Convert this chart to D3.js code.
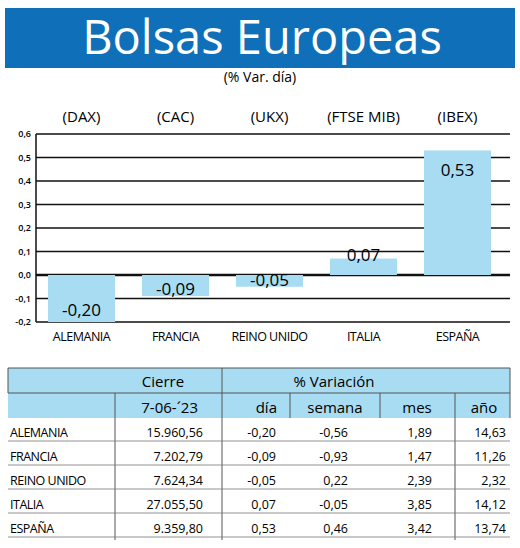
<!DOCTYPE html>
<html><head><meta charset="utf-8">
<script src="https://cdn.jsdelivr.net/npm/d3@7"></script>
<style>body{margin:0;background:#fff}svg{display:block}text{font-family:"Open Sans","Noto Sans",sans-serif;fill:#000}</style>
</head><body><svg id="c" width="520" height="548"></svg>
<script>
const countries = ["ALEMANIA","FRANCIA","REINO UNIDO","ITALIA","ESPAÑA"];
const indices = ["(DAX)","(CAC)","(UKX)","(FTSE MIB)","(IBEX)"];
const dia = [-0.20,-0.09,-0.05,0.07,0.53];
const yTicks = [0.6,0.5,0.4,0.3,0.2,0.1,0.0,-0.1,-0.2];
const cierre = ["15.960,56","7.202,79","7.624,34","27.055,50","9.359,80"];
const semana = [-0.56,-0.93,0.22,-0.05,0.46];
const mes = [1.89,1.47,2.39,3.85,3.42];
const anio = [14.63,11.26,2.32,14.12,13.74];
const fmt = v => v.toFixed(2).replace(".",",");

const svg = d3.select("#c");
svg.append("rect").attr("x",5).attr("y",8).attr("width",510).attr("height",60).attr("fill","#0f6fb8");
svg.append("text").attr("x",262).attr("y",54).attr("text-anchor","middle").style("fill","#fff")
  .attr("font-size",47).attr("font-weight",500).text("Bolsas Europeas");
svg.append("text").attr("x",260).attr("y",82).attr("text-anchor","middle").attr("font-size",14).text("(% Var. día)");

const x = d3.scaleBand().domain(countries).range([36,503]).paddingInner(0.287).paddingOuter(0.128);
const y = d3.scaleLinear().domain([-0.2,0.6]).range([322,134]);
const g = svg.append("g");
yTicks.forEach(t=>{
  g.append("line").attr("x1",36).attr("x2",510).attr("y1",y(t)).attr("y2",y(t)).attr("stroke","#111").attr("stroke-width",t===0?2.5:1.3);
});
g.append("line").attr("x1",36).attr("x2",36).attr("y1",y(0.6)).attr("y2",y(-0.2)).attr("stroke","#111").attr("stroke-width",1.5);
svg.append("g").attr("transform","translate(36,0)").call(d3.axisLeft(y).tickValues(yTicks).tickSize(0).tickPadding(5).tickFormat(d=>d.toFixed(1).replace(".",",")))
  .call(a=>{a.select(".domain").remove();a.selectAll("text").attr("font-size",9).attr("font-weight",600).attr("font-family","'Open Sans',sans-serif");});
g.selectAll(".bar").data(dia).join("rect").attr("x",(d,i)=>x(countries[i])).attr("width",x.bandwidth())
  .attr("y",d=>y(Math.max(0,d))).attr("height",d=>Math.abs(y(d)-y(0))).attr("fill","#a7dcf3");
g.selectAll(".vl").data(dia).join("text").attr("x",(d,i)=>x(countries[i])+x.bandwidth()/2)
  .attr("y",d=> d>0.2 ? y(d)+26 : (d>=0? y(d)+2 : (d<-0.15 ? y(d)-6 : y(d)-1)))
  .attr("text-anchor","middle").attr("font-size",17).text(d=>fmt(d));
g.selectAll(".cl").data(countries).join("text").attr("x",d=>x(d)+x.bandwidth()/2).attr("y",341)
  .attr("text-anchor","middle").attr("font-size",12.5).attr("font-weight",500).attr("letter-spacing",-0.5).text(d=>d);
g.selectAll(".il").data(indices).join("text").attr("x",(d,i)=>x(countries[i])+x.bandwidth()/2).attr("y",122)
  .attr("text-anchor","middle").attr("font-size",15).text(d=>d);

// table
const t = svg.append("g");
t.append("rect").attr("x",8).attr("y",368).attr("width",502).attr("height",50).attr("fill","#a7dcf3");
const line=(x1,y1,x2,y2,c="#555",w=1)=>t.append("line").attr("x1",x1).attr("y1",y1).attr("x2",x2).attr("y2",y2).attr("stroke",c).attr("stroke-width",w);
line(8,368,510,368); line(8,393,510,393); line(8,368,8,393); line(510,368,510,418);
line(222,368,222,540); line(115,393,115,540);
[290,380,455].forEach(c=>line(c,393,c,418));
line(455,418,455,540);
t.append("text").attr("x",163).attr("y",387).attr("text-anchor","middle").attr("font-size",15).attr("font-weight",500).text("Cierre");
t.append("text").attr("x",334).attr("y",387).attr("text-anchor","middle").attr("font-size",15).attr("font-weight",500).text("% Variación");
const hdr=[["7-06-´23",198],["día",277],["semana",335],["mes",417],["año",484]];
hdr.forEach(([s,xx])=>t.append("text").attr("x",xx).attr("y",413).attr("text-anchor",s==="semana"||s==="mes"||s==="año"?"middle":"end").attr("font-size",15).text(s));
countries.forEach((c,i)=>{
  const yy=437+i*24;
  t.append("text").attr("x",10).attr("y",yy).attr("font-size",12.5).attr("font-weight",500).attr("letter-spacing",-0.5).text(c);
  t.append("text").attr("x",203).attr("y",yy).attr("text-anchor","end").attr("font-size",12.5).text(cierre[i]);
  t.append("text").attr("x",276).attr("y",yy).attr("text-anchor","end").attr("font-size",12.5).text(fmt(dia[i]));
  t.append("text").attr("x",348).attr("y",yy).attr("text-anchor","end").attr("font-size",12.5).text(fmt(semana[i]));
  t.append("text").attr("x",432).attr("y",yy).attr("text-anchor","end").attr("font-size",12.5).text(fmt(mes[i]));
  t.append("text").attr("x",506).attr("y",yy).attr("text-anchor","end").attr("font-size",12.5).text(fmt(anio[i]));
  line(8,yy+4,510,yy+4,"#777",0.8);
});
</script></body></html>
